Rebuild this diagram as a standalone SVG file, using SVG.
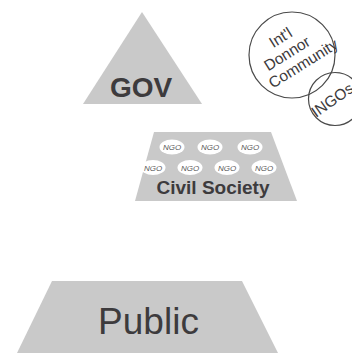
<svg xmlns="http://www.w3.org/2000/svg" width="352" height="353" viewBox="0 0 352 353">
<style>
.shape{fill:#c9c9c9}
.lbl{font-family:"Liberation Sans",Arial,sans-serif;fill:#3d3b3d;text-anchor:middle}
.ngo{fill:#ffffff}
.ngot{font-family:"Liberation Sans",Arial,sans-serif;font-style:italic;font-size:8px;fill:#5a5a5a;text-anchor:middle}
.ring{fill:none;stroke:#4a4a4a;stroke-width:1.2}
.ctext{font-family:"Liberation Sans",Arial,sans-serif;font-size:15.5px;fill:#3d3b3d;text-anchor:middle}
</style>
<rect width="352" height="353" fill="#ffffff"/>
<g id="gov">
<polygon class="shape" points="142,12 202,104 83,104"/>
<text class="lbl" x="141" y="97" font-size="28" font-weight="bold">GOV</text>
</g>
<g id="donor">
<circle class="ring" cx="292" cy="55" r="43"/>
<g transform="translate(288,55) rotate(-32)">
<text class="ctext" x="3" y="-13.5">Int'l</text>
<text class="ctext" x="0" y="3.5">Donnor</text>
<text class="ctext" x="8.5" y="20.5">Community</text>
</g>
</g>
<g id="ingo">
<circle class="ring" cx="335" cy="99" r="26.5"/>
<text class="ctext" style="text-anchor:start" transform="translate(316,118) rotate(-35)">INGOs</text>
</g>
<g id="civil">
<polygon class="shape" points="154,132 271,132 297,201 135,201"/>
<ellipse class="ngo" cx="172" cy="147" rx="12.5" ry="7.5"/>
<ellipse class="ngo" cx="210" cy="147" rx="12.5" ry="7.5"/>
<ellipse class="ngo" cx="250" cy="147" rx="12.5" ry="7.5"/>
<ellipse class="ngo" cx="153" cy="167.5" rx="12.5" ry="7.5"/>
<ellipse class="ngo" cx="190" cy="167.5" rx="12.5" ry="7.5"/>
<ellipse class="ngo" cx="227" cy="167.5" rx="12.5" ry="7.5"/>
<ellipse class="ngo" cx="264" cy="167.5" rx="12.5" ry="7.5"/>
<text class="ngot" x="172" y="150">NGO</text>
<text class="ngot" x="210" y="150">NGO</text>
<text class="ngot" x="250" y="150">NGO</text>
<text class="ngot" x="153" y="170.5">NGO</text>
<text class="ngot" x="190" y="170.5">NGO</text>
<text class="ngot" x="227" y="170.5">NGO</text>
<text class="ngot" x="264" y="170.5">NGO</text>
<text class="lbl" x="213" y="194" font-size="19" font-weight="bold">Civil Society</text>
</g>
<g id="public">
<polygon class="shape" points="52,281 242,281 278,353 17,353"/>
<text class="lbl" x="148.5" y="334" font-size="37">Public</text>
</g>
<g id="connectors"></g>
</svg>
